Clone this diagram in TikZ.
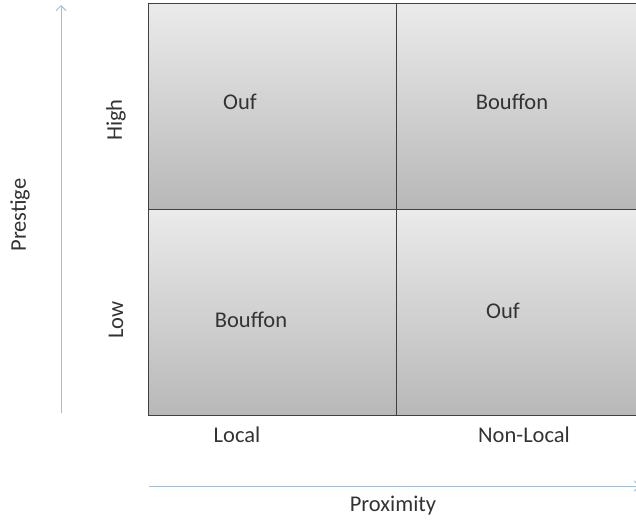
\documentclass[tikz,border=0pt]{standalone}
\usepackage{fontspec}
\setmainfont{Carlito}
\usetikzlibrary{positioning, arrows.meta}
\definecolor{axisblue}{HTML}{A5BDD9}

\begin{document}
\begin{tikzpicture}[
    x=1pt, y=-1pt,
    >={Straight Barb[length=5pt,width=10pt]},
    % Stile per le celle della matrice
    cell/.style={rectangle, draw=black!75, line width=1.3pt, anchor=north west, inner sep=0pt,
        minimum width=248pt, minimum height=206pt, top color=black!8, bottom color=black!28},
    lbl/.style={font=\fontsize{22.5}{26}\selectfont, text=black!80},
    axis/.style={draw=axisblue, line width=0.9pt}
]
    \useasboundingbox (0,0) rectangle (636,519);
    \clip (0,0) rectangle (636,519);

    % Celle
    \node[cell] (hl) at (148,3) {};
    \node[cell] (hn) at (396,3) {};
    \node[cell] (ll) at (148,209) {};
    \node[cell] (ln) at (396,209) {};

    % Testi nelle celle
    \node[lbl] (hlt) at (240,102) {Ouf};
    \node[lbl] (hnt) at (512,102) {Bouffon};
    \node[lbl] (llt) at (251,320) {Bouffon};
    \node[lbl] (lnt) at (503,311) {Ouf};

    % Etichette degli assi
    \node[lbl, rotate=90] (high) at (116,120) {High};
    \node[lbl, rotate=90] (low) at (116,320) {Low};
    \node[lbl, rotate=90] (prestige) at (20,215) {Prestige};
    \node[lbl] (local) at (237,435) {Local};
    \node[lbl] (nonlocal) at (524,435) {Non-Local};
    \node[lbl] (proximity) at (393,506) {Proximity};

    % Frecce
    \coordinate (pbot) at (61,413);
    \coordinate (ptop) at (61,5);
    \coordinate (xleft) at (149,486);
    \coordinate (xright) at (640,486);
    \draw[axis,->] (pbot) -- (ptop);
    \draw[axis,->] (xleft) -- (xright);

\end{tikzpicture}
\end{document}
